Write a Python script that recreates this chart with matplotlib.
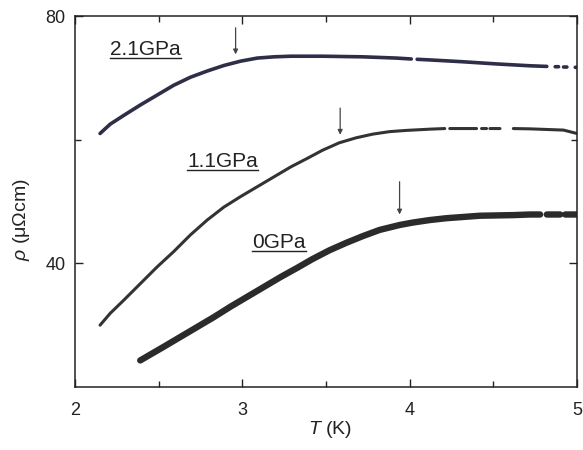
import numpy as np
import matplotlib
matplotlib.use("Agg")
import matplotlib.pyplot as plt

plt.rcParams['font.family'] = ['Liberation Sans', 'DejaVu Sans']
plt.rcParams['mathtext.fontset'] = 'custom'
plt.rcParams['mathtext.rm'] = 'Liberation Sans'
plt.rcParams['mathtext.it'] = 'Liberation Sans:italic'

nan = np.nan

# 2.1 GPa  (nan = gap in the measured points)
T21 = [2.15, 2.21, 2.29, 2.39, 2.49, 2.59, 2.69, 2.79, 2.89, 2.99, 3.09, 3.19,
       3.29, 3.48, 3.72, 3.92, 4.01, nan, 4.045, 4.12, 4.32, 4.52, 4.72,
       4.82, nan, 4.87, 4.89, nan, 4.92, 4.94, nan, 4.99, 5.0]
R21 = [61.0, 62.5, 63.9, 65.6, 67.2, 68.8, 70.1, 71.1, 72.0, 72.7, 73.2, 73.4,
       73.5, 73.5, 73.4, 73.2, 73.05, nan, 73.0, 72.9, 72.6, 72.25, 71.95,
       71.85, nan, 71.8, 71.8, nan, 71.75, 71.75, nan, 71.7, 71.7]

# 1.1 GPa
T11 = [2.15, 2.21, 2.29, 2.39, 2.49, 2.59, 2.69, 2.79, 2.89, 2.99, 3.09, 3.19,
       3.29, 3.39, 3.48, 3.58, 3.68, 3.78, 3.88, 3.98, 4.12, 4.21, nan,
       4.24, 4.32, 4.40, nan, 4.43, 4.46, nan, 4.48, 4.54, nan,
       4.62, 4.72, 4.92, 5.0]
R11 = [30.0, 31.9, 34.0, 36.7, 39.4, 41.9, 44.6, 47.0, 49.1, 50.8, 52.4, 54.0,
       55.6, 57.0, 58.3, 59.5, 60.3, 60.9, 61.3, 61.5, 61.7, 61.8, nan,
       61.8, 61.8, 61.8, nan, 61.8, 61.8, nan, 61.8, 61.8, nan,
       61.8, 61.75, 61.55, 61.0]

# 0 GPa
T0 = [2.39, 2.53, 2.63, 2.73, 2.83, 2.93, 3.03, 3.13, 3.23, 3.33, 3.42, 3.52,
      3.62, 3.72, 3.82, 3.94, 4.02, 4.12, 4.22, 4.32, 4.42, 4.62, 4.72, 4.78, nan,
      4.82, 4.90, nan, 4.93, 5.0]
R0 = [24.3, 26.5, 28.1, 29.7, 31.3, 33.0, 34.6, 36.2, 37.8, 39.3, 40.7, 42.1,
      43.3, 44.4, 45.4, 46.2, 46.6, 47.0, 47.3, 47.5, 47.7, 47.8, 47.9, 47.9, nan,
      47.9, 47.9, nan, 47.9, 47.9]

labels = ['2.1GPa', '1.1GPa', '0GPa']
label_xy = [(2.21, 74.6), (2.67, 56.5), (3.06, 43.4)]
arrow_T = [2.96, 3.585, 3.94]
arrow_top = [78.1, 65.1, 53.2]
arrow_tip = [73.8, 60.8, 47.9]

fig = plt.figure(figsize=(5.83, 4.5), dpi=100)
ax = fig.add_axes([0.1286, 0.14, 0.861, 0.8244])

ax.plot(T21, R21, color='#2e2e48', lw=2.6, solid_capstyle='round')
ax.plot(T11, R11, color='#333333', lw=2.2, solid_capstyle='round')
ax.plot(T0, R0, color='#2b2b2b', lw=4.6, solid_capstyle='round')

texts = []
for lab, (x, y) in zip(labels, label_xy):
    texts.append(ax.text(x, y, lab, fontsize=15, color='#222222',
                         ha='left', va='center'))

for t, y0, y1 in zip(arrow_T, arrow_top, arrow_tip):
    ax.annotate('', xy=(t, y1), xytext=(t, y0),
                arrowprops=dict(arrowstyle='-|>', lw=0.9, color='#444444',
                                mutation_scale=7, shrinkA=0, shrinkB=0))

ax.set_xlim(2, 5)
ax.set_ylim(20, 80)
ax.set_xticks([2, 3, 4, 5])
ax.set_xticks([2.5, 3.5, 4.5], minor=True)
ax.set_yticks([40, 80])
ax.set_yticks([60], minor=True)
ax.tick_params(which='both', direction='in', top=True, right=True,
               labelsize=13, colors='#222222')
ax.tick_params(which='major', length=6, width=1.0)
ax.tick_params(which='minor', length=4, width=1.0)
ax.tick_params(axis='x', pad=11)
ax.tick_params(axis='y', pad=7)
for s in ax.spines.values():
    s.set_linewidth(1.1)
    s.set_color('#222222')

fig.text(22 / 583, 1 - 220 / 450, r'$\rho$ (μΩcm)', rotation=90,
         fontsize=14, ha='center', va='center', color='#222222')
fig.text(330 / 583, 1 - 430 / 450, r'$T$ (K)', fontsize=14,
         ha='center', va='center', color='#222222')

# underline the pressure labels
fig.canvas.draw()
inv = ax.transData.inverted()
for tx in texts:
    bb = tx.get_window_extent()
    (xa, ya), (xb, _) = inv.transform([(bb.x0, bb.y0 + 1), (bb.x1, bb.y0 + 1)])
    ax.plot([xa, xb], [ya, ya], color='#222222', lw=1.0)

fig.savefig('out.png', dpi=100)
